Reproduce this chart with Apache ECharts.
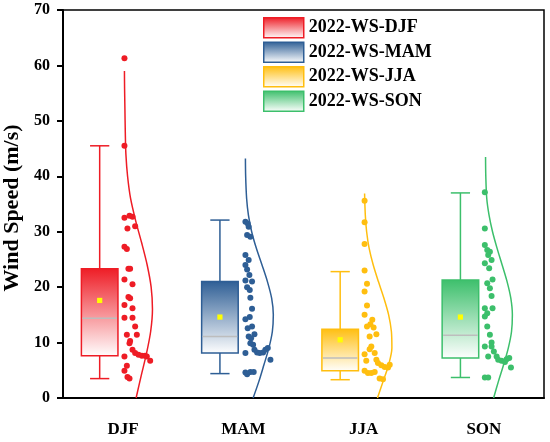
<!DOCTYPE html>
<html>
<head>
  <meta charset="utf-8">
  <title>Wind speed by season</title>
  <script src="https://cdn.jsdelivr.net/npm/echarts@6/dist/echarts.min.js"></script>
  <style>
    html, body { margin: 0; padding: 0; background: #fff; }
    #main { width: 550px; height: 442px; }
  </style>
</head>
<body>
  <div id="main"></div>
  <script>
    // categories and legend names
    var seasons = ['DJF', 'MAM', 'JJA', 'SON'];
    var legendNames = ['2022-WS-DJF', '2022-WS-MAM', '2022-WS-JJA', '2022-WS-SON'];

    // box statistics (m/s), one value per season
    var boxLow = [3.5, 4.4, 3.3, 3.7];
    var boxQ1 = [7.6, 8.1, 4.9, 7.2];
    var boxMedian = [14.4, 11.1, 7.2, 11.3];
    var boxQ3 = [23.3, 21.0, 12.4, 21.3];
    var boxHigh = [45.5, 32.1, 22.8, 37.0];
    var boxMean = [17.6, 14.6, 10.5, 14.6];

    // raw points (m/s) and their jitter (fraction of a category band)
    var djfSpeeds = [61.3, 45.5, 32.5, 32.9, 32.7, 30.6, 31.0, 27.3, 26.9, 23.3, 23.3, 21.4, 20.5, 18.2, 18.0, 16.8, 16.2, 14.5, 14.5, 12.9, 11.4, 11.4, 10.3, 9.9, 8.7, 8.1, 7.8, 7.6, 7.6, 7.5, 6.7, 7.5, 5.8, 4.9, 3.8, 3.5];
    var djfJitter = [0.011, 0.011, 0.011, 0.053, 0.078, 0.036, 0.100, 0.011, 0.031, 0.044, 0.058, 0.011, 0.078, 0.044, 0.058, 0.011, 0.078, 0.011, 0.078, 0.100, 0.031, 0.114, 0.058, 0.053, 0.078, 0.100, 0.128, 0.156, 0.183, 0.197, 0.225, 0.011, 0.031, 0.011, 0.036, 0.053];
    var mamSpeeds = [31.8, 31.5, 30.9, 29.4, 29.1, 25.8, 24.9, 24.0, 23.2, 22.2, 21.2, 21.0, 20.0, 19.5, 18.1, 16.1, 14.6, 14.2, 12.9, 12.6, 11.5, 11.1, 10.8, 9.9, 9.6, 8.7, 8.2, 8.1, 8.2, 8.7, 9.0, 8.1, 6.9, 4.6, 4.3, 4.7, 4.7];
    var mamJitter = [0.017, 0.036, 0.044, 0.031, 0.058, 0.017, 0.044, 0.017, 0.031, 0.050, 0.017, 0.072, 0.031, 0.053, 0.058, 0.072, 0.053, 0.017, 0.072, 0.036, 0.092, 0.044, 0.064, 0.058, 0.081, 0.092, 0.114, 0.136, 0.164, 0.183, 0.203, 0.017, 0.225, 0.017, 0.031, 0.058, 0.086];
    var jjaSpeeds = [35.6, 31.7, 27.8, 23.0, 20.6, 19.2, 16.7, 15.0, 14.1, 13.3, 12.7, 12.9, 11.5, 11.1, 9.3, 8.8, 7.9, 8.1, 6.7, 6.9, 6.3, 5.9, 5.6, 5.5, 6.0, 4.9, 4.5, 4.5, 4.7, 3.5, 3.4];
    var jjaJitter = [0.008, 0.008, 0.008, 0.008, 0.028, 0.008, 0.028, 0.008, 0.072, 0.056, 0.083, 0.028, 0.106, 0.050, 0.064, 0.050, 0.008, 0.092, 0.022, 0.106, 0.119, 0.147, 0.175, 0.203, 0.217, 0.008, 0.036, 0.064, 0.092, 0.133, 0.161];
    var sonSpeeds = [37.1, 30.6, 27.6, 26.7, 26.4, 25.8, 24.9, 24.3, 23.4, 21.4, 20.7, 19.8, 18.4, 16.2, 16.2, 15.3, 14.7, 12.9, 11.4, 10.0, 9.3, 9.3, 7.5, 8.4, 7.5, 6.9, 6.7, 6.5, 7.0, 7.2, 5.5, 3.7, 3.7];
    var sonJitter = [0.008, 0.008, 0.008, 0.028, 0.050, 0.036, 0.064, 0.008, 0.044, 0.072, 0.028, 0.050, 0.064, 0.008, 0.072, 0.028, 0.008, 0.028, 0.050, 0.064, 0.008, 0.064, 0.036, 0.083, 0.106, 0.119, 0.147, 0.175, 0.189, 0.211, 0.225, 0.008, 0.036];

    // distribution curves: speed and width (fraction of a band)
    var djfCurveSpeed = [0, 4, 8, 12, 16, 20, 24, 28, 32, 36, 40, 44, 48, 52, 56, 59];
    var djfCurveWidth = [0.108, 0.150, 0.194, 0.229, 0.244, 0.233, 0.200, 0.154, 0.104, 0.062, 0.037, 0.023, 0.018, 0.015, 0.012, 0.011];
    var mamCurveSpeed = [0, 3, 6, 9, 12, 15, 18, 21, 24, 27, 30, 33, 36, 40, 43.2];
    var mamCurveWidth = [0.081, 0.129, 0.171, 0.212, 0.241, 0.249, 0.235, 0.200, 0.155, 0.108, 0.069, 0.042, 0.027, 0.019, 0.017];
    var jjaCurveSpeed = [0, 3, 6, 9, 12, 15, 18, 21, 24, 27, 30, 33, 36.9];
    var jjaCurveWidth = [0.115, 0.162, 0.208, 0.235, 0.231, 0.208, 0.169, 0.123, 0.080, 0.046, 0.025, 0.014, 0.008];
    var sonCurveSpeed = [0, 3, 6, 9, 12, 15, 18, 21, 24, 27, 30, 33, 36, 40, 43.5];
    var sonCurveWidth = [0.081, 0.121, 0.164, 0.203, 0.230, 0.237, 0.224, 0.193, 0.152, 0.110, 0.072, 0.043, 0.024, 0.016, 0.014];

    var colors = ['#EE1C25', '#2E5E95', '#FFBE0F', '#3CBF6B'];
    var FONT = "'Times New Roman', 'Liberation Serif', serif";

    var pointSets = [[djfSpeeds, djfJitter], [mamSpeeds, mamJitter], [jjaSpeeds, jjaJitter], [sonSpeeds, sonJitter]];
    var curveSets = [[djfCurveSpeed, djfCurveWidth], [mamCurveSpeed, mamCurveWidth], [jjaCurveSpeed, jjaCurveWidth], [sonCurveSpeed, sonCurveWidth]];

    function fade(c) {
      return new echarts.graphic.LinearGradient(0, 0, 0, 1, [
        { offset: 0, color: c },
        { offset: 1, color: '#ffffff' }
      ]);
    }

    // box + whiskers + median + mean, shifted left of the tick
    function makeBoxRender(color) {
      return function (params, api) {
        var i = api.value(0);
        var bw = api.size([1, 0])[0];
        var cx = api.coord([i, 0])[0] - 0.195 * bw;
        var half = 0.152 * bw;
        var cap = 0.08 * bw;
        var yLow = api.coord([i, api.value(1)])[1];
        var yQ1 = api.coord([i, api.value(2)])[1];
        var yMed = api.coord([i, api.value(3)])[1];
        var yQ3 = api.coord([i, api.value(4)])[1];
        var yHigh = api.coord([i, api.value(5)])[1];
        var yMean = api.coord([i, api.value(6)])[1];
        var ls = { stroke: color, lineWidth: 1.5, fill: null };
        return {
          type: 'group',
          children: [
            { type: 'line', shape: { x1: cx, y1: yQ3, x2: cx, y2: yHigh }, style: ls },
            { type: 'line', shape: { x1: cx - cap, y1: yHigh, x2: cx + cap, y2: yHigh }, style: ls },
            { type: 'line', shape: { x1: cx, y1: yQ1, x2: cx, y2: yLow }, style: ls },
            { type: 'line', shape: { x1: cx - cap, y1: yLow, x2: cx + cap, y2: yLow }, style: ls },
            {
              type: 'rect',
              shape: { x: cx - half, y: yQ3, width: half * 2, height: yQ1 - yQ3 },
              style: { fill: fade(color), stroke: color, lineWidth: 1.5 }
            },
            { type: 'line', shape: { x1: cx - half + 1, y1: yMed, x2: cx + half - 1, y2: yMed }, style: { stroke: '#BDBDBD', lineWidth: 1.5 } },
            { type: 'rect', shape: { x: cx - 2.6, y: yMean - 2.6, width: 5.2, height: 5.2 }, style: { fill: '#FFFF00' } }
          ]
        };
      };
    }

    var series = [];
    seasons.forEach(function (s, i) {
      series.push({
        name: legendNames[i],
        type: 'custom',
        xAxisIndex: 0,
        itemStyle: { color: colors[i] },
        renderItem: makeBoxRender(colors[i]),
        data: [[i, boxLow[i], boxQ1[i], boxMedian[i], boxQ3[i], boxHigh[i], boxMean[i]]],
        z: 2
      });
    });
    seasons.forEach(function (s, i) {
      var pts = pointSets[i][0].map(function (v, k) { return [i + pointSets[i][1][k], v]; });
      series.push({
        type: 'scatter',
        xAxisIndex: 1,
        symbolSize: 6,
        itemStyle: { color: colors[i], opacity: 1 },
        data: pts,
        z: 3
      });
      var cv = curveSets[i][0].map(function (v, k) { return [i + curveSets[i][1][k], v]; });
      series.push({
        type: 'line',
        xAxisIndex: 1,
        smooth: 0.3,
        showSymbol: false,
        lineStyle: { color: colors[i], width: 1.5 },
        data: cv,
        z: 4
      });
    });

    var chart = echarts.init(document.getElementById('main'));
    chart.setOption({
      animation: false,
      grid: {
        left: 63, right: 6, top: 10, bottom: 44,
        outerBoundsMode: 'none',
        show: true, borderColor: '#000', borderWidth: 1.5
      },
      legend: {
        orient: 'vertical',
        left: 263,
        top: 17,
        padding: 0,
        itemWidth: 40,
        itemHeight: 20,
        itemGap: 3,
        icon: 'rect',
        textStyle: { fontFamily: FONT, fontWeight: 'bold', fontSize: 18, color: '#000' },
        data: legendNames.map(function (n, i) {
          return { name: n, itemStyle: { color: fade(colors[i]), borderColor: colors[i], borderWidth: 1.5 } };
        })
      },
      xAxis: [{
        type: 'category',
        data: seasons,
        axisLine: { onZero: false, lineStyle: { color: '#000', width: 2 } },
        axisTick: { alignWithLabel: true, length: 6, lineStyle: { color: '#000', width: 2 } },
        axisLabel: { margin: 23, fontFamily: FONT, fontWeight: 'bold', fontSize: 17, color: '#000' }
      }, {
        type: 'value',
        min: -0.5,
        max: 3.5,
        show: false
      }],
      yAxis: {
        type: 'value',
        min: 0,
        max: 70,
        interval: 10,
        name: 'Wind Speed (m/s)',
        nameLocation: 'middle',
        nameGap: 37,
        nameTextStyle: { fontFamily: FONT, fontWeight: 'bold', fontSize: 22, color: '#000', padding: [0, 8, 0, 0] },
        axisLine: { show: true, onZero: false, lineStyle: { color: '#000', width: 2 } },
        axisTick: { show: true, length: 6, lineStyle: { color: '#000', width: 2 } },
        axisLabel: { margin: 13, fontFamily: FONT, fontWeight: 'bold', fontSize: 16, color: '#000' },
        splitLine: { show: false }
      },
      series: series
    });
  </script>
</body>
</html>
